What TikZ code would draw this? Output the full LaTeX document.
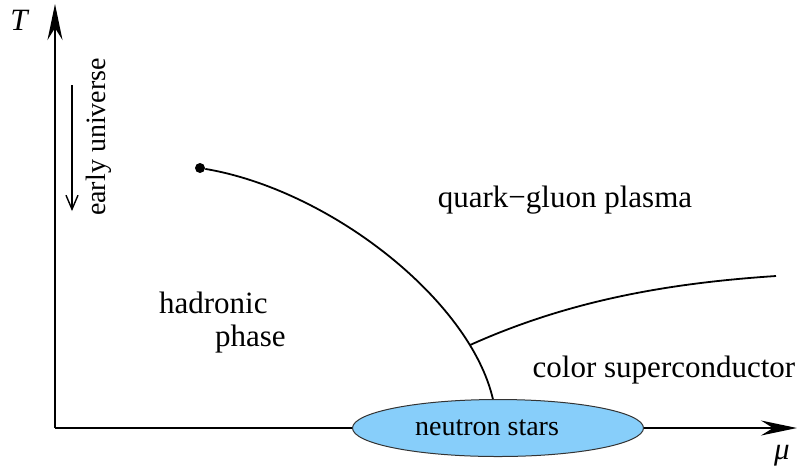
\documentclass[tikz,border=0pt]{standalone}
\usepackage{fontspec}
\setmainfont{Liberation Serif}
\usetikzlibrary{arrows.meta,shapes.geometric}
\definecolor{starblue}{RGB}{135,206,250}
\tikzset{
  axis/.style={line width=1pt,-{Stealth[length=18pt,width=7.5pt,inset=6pt]}},
  phaseline/.style={line width=0.9pt},
  label/.style={font=\fontsize{15.5}{18}\selectfont},
  smalllabel/.style={font=\fontsize{14}{17}\selectfont}
}
\begin{document}
\begin{tikzpicture}[x=0.5pt,y=-0.5pt]
    \useasboundingbox (0,0) rectangle (798,473);

    % osy
    \coordinate (o) at (55,428);
    \coordinate (tmax) at (55,4);
    \coordinate (mumax) at (797,428);
    \draw[axis] (o) -- (tmax);
    \draw[axis] (o) -- (mumax);
    \node[label] (tlab) at (20,20) {\textit{T}};
    \node[label] (mulab) at (782,456) {\textit{μ}};

    % early universe
    \coordinate (eutop) at (72,85);
    \coordinate (eubot) at (72,211);
    \draw[line width=0.7pt,-{Straight Barb[length=7pt,width=6pt]}] (eutop) -- (eubot);
    \node[smalllabel,rotate=90] (eu) at (99,137) {early universe};

    % neutron stars
    \node[ellipse,draw=black!80,line width=0.5pt,fill=starblue,inner sep=0pt,
          minimum width=145.5pt,minimum height=28.5pt,smalllabel] (ns) at (498,428) {};
    \node[smalllabel] (nslab) at (487,428) {neutron stars};

    % fazove hranice
    \node[circle,fill,inner sep=0pt,minimum size=5pt] (cep) at (200,168) {};
    \coordinate (cscend) at (776,276);
    \draw[phaseline] (cep) .. controls (330,190) and (470,300) .. coordinate[pos=0.82] (tri) (ns.100);
    \draw[phaseline] (tri) .. controls (570,300) and (670,283) .. (cscend);

    % popisky
    \node[label,anchor=base] (qgp) at (565,207) {quark−gluon plasma};
    \node[label,anchor=base west] (had) at (152,313) {hadronic};
    \node[label,anchor=base west] (pha) at (208,346) {phase};
    \node[label,anchor=base] (csc) at (664,377) {color superconductor};
\end{tikzpicture}
\end{document}
